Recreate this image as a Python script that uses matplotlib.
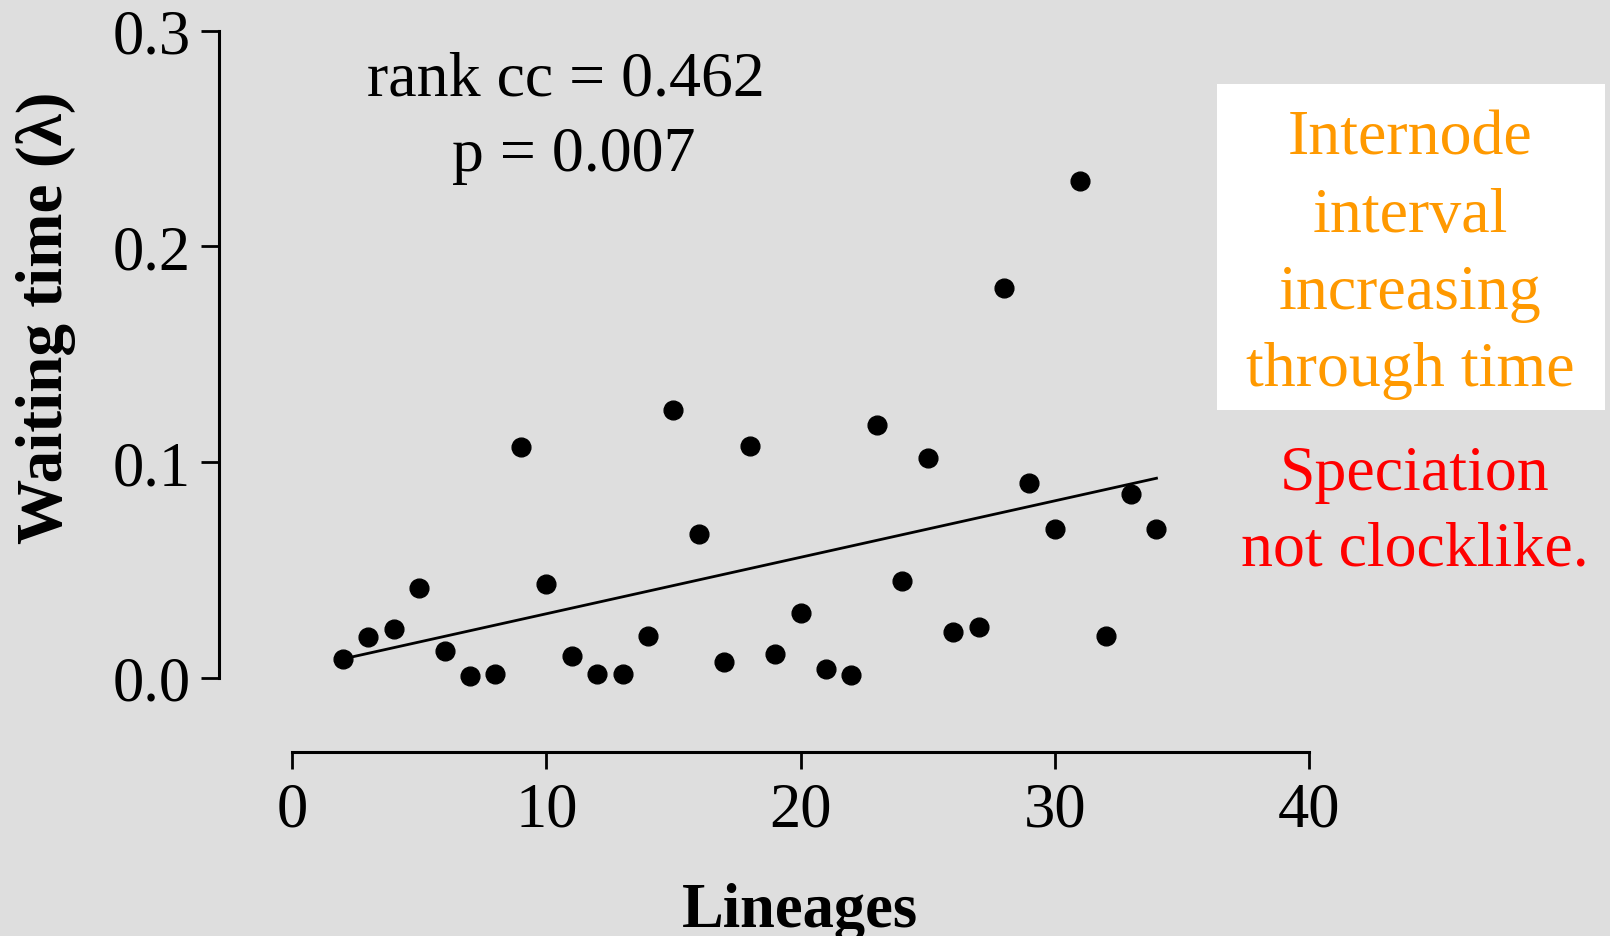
import matplotlib
matplotlib.use("Agg")
import matplotlib.pyplot as plt
from matplotlib.patches import Rectangle

# values
lineages = [2, 3, 4, 5, 6, 7, 8, 9, 10, 11, 12, 13, 14, 15, 16, 17, 18,
            19, 20, 21, 22, 23, 24, 25, 26, 27, 28, 29, 30, 31, 32, 33, 34]
waiting_time = [0.0087, 0.0190, 0.0226, 0.0416, 0.0122, 0.0009, 0.0017,
                0.1069, 0.0435, 0.0102, 0.0017, 0.0017, 0.0195, 0.1242,
                0.0667, 0.0074, 0.1073, 0.0110, 0.0300, 0.0040, 0.0014,
                0.1174, 0.0447, 0.1019, 0.0210, 0.0234, 0.1807, 0.0902,
                0.0690, 0.2305, 0.0194, 0.0853, 0.0690]
trend_x = [2, 34]
trend_y = [0.0087, 0.0925]

x_ticks = [0, 10, 20, 30, 40]
y_ticks = [0.0, 0.1, 0.2, 0.3]
y_tick_labels = ["0.0", "0.1", "0.2", "0.3"]

stats_text = ["rank cc = 0.462", "p = 0.007"]
box_lines = ["Internode", "interval", "increasing", "through time"]
note_lines = ["Speciation", "not clocklike."]

BG = "#dedede"
W, H = 1610, 937

plt.rcParams["font.family"] = ["Liberation Serif", "DejaVu Serif"]

fig = plt.figure(figsize=(W / 100, H / 100), dpi=100, facecolor=BG)

# axes box in pixels: y spine at x=219, x spine at y=752, x=40 at 1309, y=0.3 at 32
left_px, right_px, bottom_px, top_px = 219, 1309, 752.6, 31.8
ax = fig.add_axes([left_px / W, 1 - bottom_px / H,
                   (right_px - left_px) / W, (bottom_px - top_px) / H])
ax.set_facecolor(BG)

x0_px = 292.0
px_per_x = (1309.2 - 293.7) / 40
y0_px = 678.7
px_per_y = (678.7 - 31.8) / 0.3
ax.set_xlim(-(x0_px - left_px) / px_per_x, 40)
ax.set_ylim(-(bottom_px - y0_px) / px_per_y, 0.3)

ax.plot(lineages, waiting_time, "o", color="black", markersize=13.5, zorder=3)
ax.plot(trend_x, trend_y, color="black", linewidth=2.0, zorder=2)

for side in ["top", "right"]:
    ax.spines[side].set_visible(False)
ax.spines["left"].set_bounds(0, 0.3)
ax.spines["bottom"].set_bounds(0, 40)
for side in ["left", "bottom"]:
    ax.spines[side].set_linewidth(2.2)

ax.set_xticks(x_ticks)
ax.set_xticklabels([str(t) for t in x_ticks])
ax.set_yticks(y_ticks)
ax.set_yticklabels(y_tick_labels)
ax.tick_params(axis="y", length=13, width=2.0, pad=7, labelsize=45)
ax.tick_params(axis="x", length=12.5, width=2.0, pad=9, labelsize=45)

fig.text(46 / W, 1 - 318 / H, "Waiting time (\u03bb)", rotation=90,
         ha="center", va="center", fontsize=47, fontweight="bold")
fig.text(800 / W, 1 - 912 / H, "Lineages", ha="center", va="center",
         fontsize=45, fontweight="bold")

fig.text(566 / W, 1 - 80 / H, stats_text[0], ha="center", va="center", fontsize=46)
fig.text(574 / W, 1 - 156 / H, stats_text[1], ha="center", va="center", fontsize=46)

fig.patches.append(Rectangle((1217 / W, 1 - 411 / H), (1605 - 1217) / W,
                             (411 - 85) / H, transform=fig.transFigure,
                             facecolor="white", edgecolor="none"))
for i, line in enumerate(box_lines):
    fig.text(1410 / W, 1 - (140 + 77 * i) / H, line, ha="center", va="center",
             fontsize=46, color="#ff9900")
for i, line in enumerate(note_lines):
    fig.text(1415 / W, 1 - (475 + 76 * i) / H, line, ha="center", va="center",
             fontsize=46, color="#ff0000")

fig.savefig("out.png", dpi=100, facecolor=BG)
